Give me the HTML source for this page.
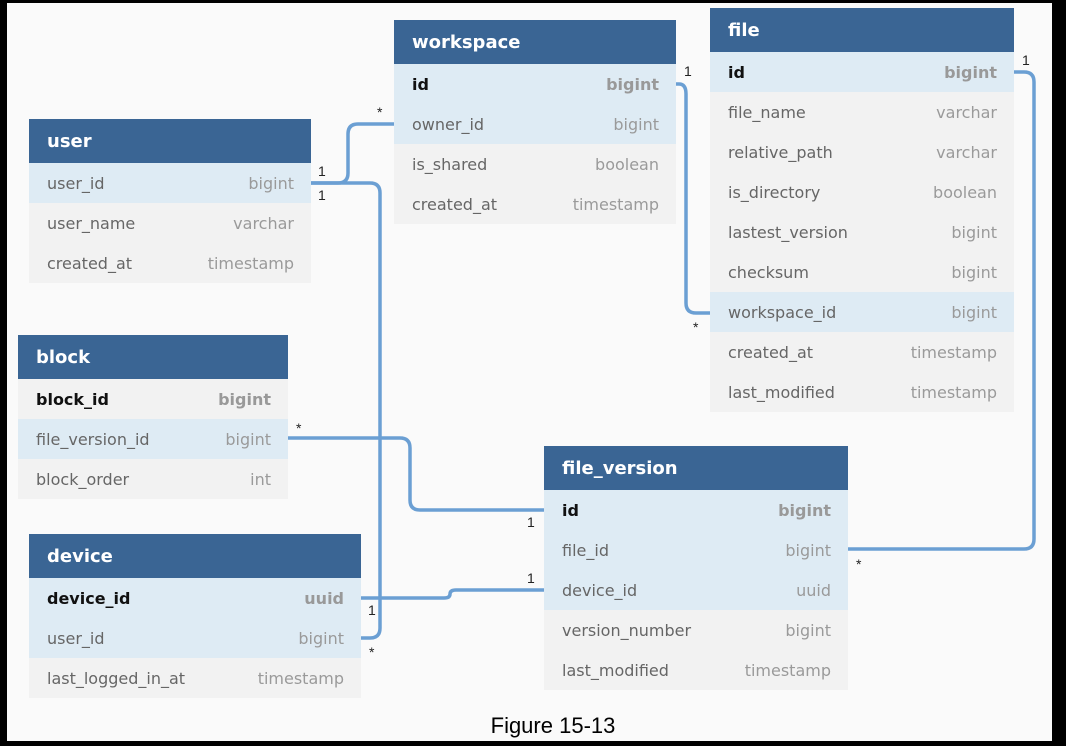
<!DOCTYPE html>
<html><head><meta charset="utf-8"><style>
body{margin:0;width:1066px;height:746px;background:#000;position:relative;overflow:hidden;font-family:"DejaVu Sans","Liberation Sans",sans-serif}
#bg{position:absolute;left:7px;top:3px;width:1045px;height:738px;background:#fafafa}
.t{position:absolute;background:#f2f2f2}
.h{height:44px;background:#3a6594;color:#fff;font-weight:bold;font-size:18px;line-height:46px;padding-left:18px;box-sizing:border-box}
.r{height:40px;line-height:42px;font-size:16px;color:#666;padding:0 17px 0 18px;display:flex;justify-content:space-between}
.r span:last-child{color:#9a9a9a}
.b{background:#deebf4}
.pk span:first-child{color:#111;font-weight:bold}
.pk span:last-child{font-weight:bold;color:#999}
svg{position:absolute;left:0;top:0}
.lab{font-family:"Liberation Sans",sans-serif;font-size:14px;fill:#222}
#cap{position:absolute;left:0;width:1106px;top:713px;text-align:center;font-family:"Liberation Sans",Arial,sans-serif;font-size:22px;color:#000}
</style></head><body>
<div id="bg"></div>
<div class="t" style="left:394px;top:20px;width:282px">
<div class="h">workspace</div>
<div class="r b pk"><span>id</span><span>bigint</span></div>
<div class="r b"><span>owner_id</span><span>bigint</span></div>
<div class="r"><span>is_shared</span><span>boolean</span></div>
<div class="r"><span>created_at</span><span>timestamp</span></div>
</div>
<div class="t" style="left:710px;top:8px;width:304px">
<div class="h">file</div>
<div class="r b pk"><span>id</span><span>bigint</span></div>
<div class="r"><span>file_name</span><span>varchar</span></div>
<div class="r"><span>relative_path</span><span>varchar</span></div>
<div class="r"><span>is_directory</span><span>boolean</span></div>
<div class="r"><span>lastest_version</span><span>bigint</span></div>
<div class="r"><span>checksum</span><span>bigint</span></div>
<div class="r b"><span>workspace_id</span><span>bigint</span></div>
<div class="r"><span>created_at</span><span>timestamp</span></div>
<div class="r"><span>last_modified</span><span>timestamp</span></div>
</div>
<div class="t" style="left:29px;top:119px;width:282px">
<div class="h">user</div>
<div class="r b"><span>user_id</span><span>bigint</span></div>
<div class="r"><span>user_name</span><span>varchar</span></div>
<div class="r"><span>created_at</span><span>timestamp</span></div>
</div>
<div class="t" style="left:18px;top:335px;width:270px">
<div class="h">block</div>
<div class="r pk"><span>block_id</span><span>bigint</span></div>
<div class="r b"><span>file_version_id</span><span>bigint</span></div>
<div class="r"><span>block_order</span><span>int</span></div>
</div>
<div class="t" style="left:544px;top:446px;width:304px">
<div class="h">file_version</div>
<div class="r b pk"><span>id</span><span>bigint</span></div>
<div class="r b"><span>file_id</span><span>bigint</span></div>
<div class="r b"><span>device_id</span><span>uuid</span></div>
<div class="r"><span>version_number</span><span>bigint</span></div>
<div class="r"><span>last_modified</span><span>timestamp</span></div>
</div>
<div class="t" style="left:29px;top:534px;width:332px">
<div class="h">device</div>
<div class="r b pk"><span>device_id</span><span>uuid</span></div>
<div class="r b"><span>user_id</span><span>bigint</span></div>
<div class="r"><span>last_logged_in_at</span><span>timestamp</span></div>
</div>
<svg width="1066" height="746" fill="none" stroke="#6b9fd3" stroke-width="3.5">
<path d="M311 183 H338 Q348 183 348 173 V134 Q348 124 358 124 H394"/>
<path d="M311 183 H370 Q380 183 380 193 V628 Q380 638 370 638 H361"/>
<path d="M676 84 H679 Q686 84 686 94 V303 Q686 313 696 313 H710"/>
<path d="M1014 72 H1024 Q1034 72 1034 82 V539 Q1034 549 1024 549 H848"/>
<path d="M288 438 H400 Q410 438 410 448 V500 Q410 510 420 510 H544"/>
<path d="M361 598 H444 Q450 598 450 594 Q450 590 456 590 H544"/>
<g stroke="none">
<text class="lab" x="318" y="176">1</text><text class="lab" x="318" y="200">1</text>
<text class="lab" x="377" y="117">*</text><text class="lab" x="369" y="657">*</text>
<text class="lab" x="684" y="76">1</text><text class="lab" x="693" y="332">*</text>
<text class="lab" x="1022" y="65">1</text><text class="lab" x="856" y="569">*</text>
<text class="lab" x="296" y="433">*</text><text class="lab" x="527" y="527">1</text>
<text class="lab" x="368" y="615">1</text><text class="lab" x="527" y="583">1</text>
</g></svg>
<div id="cap">Figure 15-13</div>
</body></html>
